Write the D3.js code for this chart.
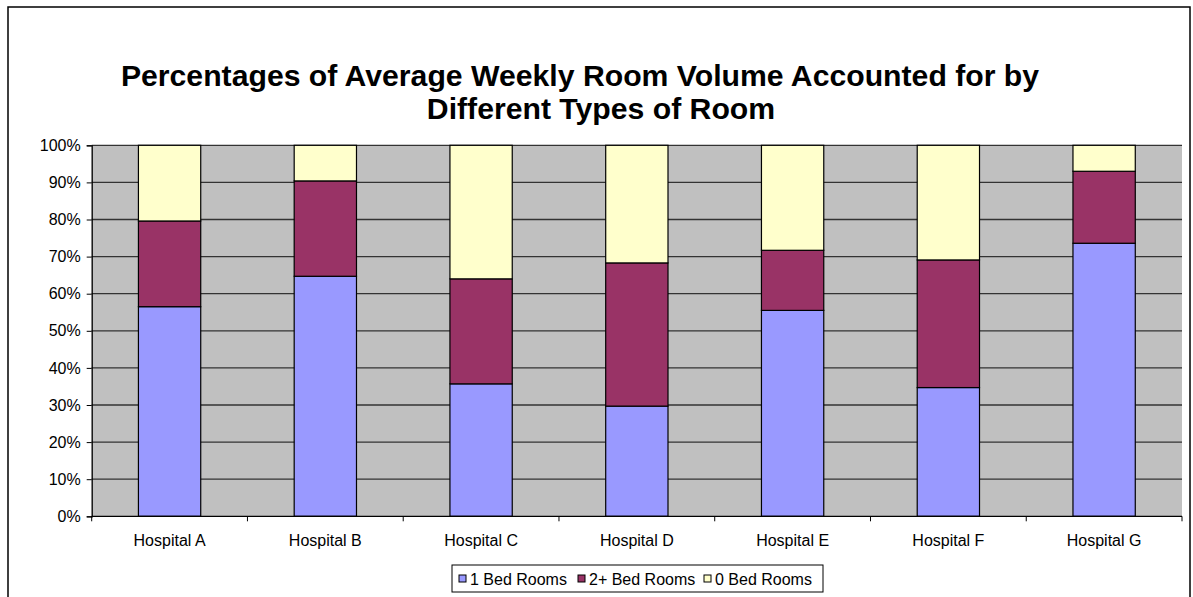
<!DOCTYPE html>
<html>
<head>
<meta charset="utf-8">
<script src="https://cdn.jsdelivr.net/npm/d3@7"></script>
<style>
  body { margin: 0; background: #fff; }
  text { font-family: "Liberation Sans", Arial, sans-serif; }
</style>
</head>
<body>
<div id="chart"></div>
<script>
// Daten
var hospitals = ["Hospital A", "Hospital B", "Hospital C", "Hospital D", "Hospital E", "Hospital F", "Hospital G"];
var oneBed  = [56.5, 64.7, 35.7, 29.7, 55.5, 34.7, 73.6];
var twoBed  = [23.1, 25.7, 28.3, 38.6, 16.2, 34.4, 19.4];
var zeroBed = [20.4, 9.6, 36.0, 31.7, 28.3, 30.9, 7.0];
var seriesNames = ["1 Bed Rooms", "2+ Bed Rooms", "0 Bed Rooms"];
var seriesColors = ["#9999FF", "#993366", "#FFFFCC"];
var yTicks = [0, 10, 20, 30, 40, 50, 60, 70, 80, 90, 100];

var W = 1193, H = 597;
var margin = {top: 145.3, right: 11, bottom: 80.7, left: 91.7},
    width = W - margin.left - margin.right,
    height = H - margin.top - margin.bottom;

var svg = d3.select("#chart").append("svg")
    .attr("width", W)
    .attr("height", H);

// Rahmen
svg.append("rect")
   .attr("x", 8).attr("y", 7)
   .attr("width", W - 3 - 8).attr("height", H + 10)
   .attr("fill", "none")
   .attr("stroke", "#000")
   .attr("stroke-width", 1.5);

// Titel
var title = svg.append("text")
   .attr("text-anchor", "middle")
   .attr("font-size", 30.2)
   .attr("font-weight", "bold")
   .attr("fill", "#000");
title.append("tspan").attr("x", 580).attr("y", 86).text("Percentages of Average Weekly Room Volume Accounted for by");
title.append("tspan").attr("x", 601).attr("y", 119).text("Different Types of Room");

var g = svg.append("g")
   .attr("transform", "translate(" + margin.left + "," + margin.top + ")");

var x = d3.scaleBand().domain(hospitals).range([0, width]).paddingInner(0.6).paddingOuter(0.3);
var xOuter = d3.scaleBand().domain(hospitals).range([0, width]);
var y = d3.scaleLinear().domain([0, 100]).range([height, 0]);

// Hintergrund
g.append("rect")
   .attr("width", width).attr("height", height)
   .attr("fill", "#C0C0C0");

// Gitterlinien
g.selectAll(".grid").data(yTicks.slice(1)).enter().append("line")
   .attr("x1", 0).attr("x2", width)
   .attr("y1", function(d) { return y(d); })
   .attr("y2", function(d) { return y(d); })
   .attr("stroke", "#333")
   .attr("stroke-width", 1.3);

// gestapelte Daten
var rows = hospitals.map(function(h, i) {
  return {name: h, s0: oneBed[i], s1: twoBed[i], s2: zeroBed[i]};
});
var stack = d3.stack().keys(["s0", "s1", "s2"]);
var layers = stack(rows);

g.selectAll(".layer").data(layers).enter().append("g")
   .attr("fill", function(d, i) { return seriesColors[i]; })
   .selectAll("rect").data(function(d) { return d; }).enter().append("rect")
   .attr("x", function(d) { return x(d.data.name); })
   .attr("width", x.bandwidth())
   .attr("y", function(d) { return y(d[1]); })
   .attr("height", function(d) { return y(d[0]) - y(d[1]); })
   .attr("stroke", "#000")
   .attr("stroke-width", 1.2);

// Y Achse
var yAxis = d3.axisLeft(y).tickValues(yTicks).tickSize(5).tickPadding(6)
   .tickFormat(function(d) { return d + "%"; });
var ya = g.append("g").call(yAxis);
ya.select(".domain").attr("stroke", "#000").attr("stroke-width", 1.3);
ya.selectAll(".tick line").attr("stroke", "#000");
ya.selectAll("text").attr("font-size", 16).attr("fill", "#000")
   .style("font-family", "'Liberation Sans', Arial, sans-serif");

// X Achse
var xa = g.append("g").attr("transform", "translate(0," + height + ")");
xa.append("line").attr("x1", 0).attr("x2", width).attr("stroke", "#000").attr("stroke-width", 1.3);
var bounds = hospitals.map(function(h) { return xOuter(h); }).concat([width]);
xa.selectAll(".xt").data(bounds).enter().append("line")
   .attr("x1", function(d) { return d; }).attr("x2", function(d) { return d; })
   .attr("y1", 0).attr("y2", 5)
   .attr("stroke", "#000");
xa.selectAll(".xl").data(hospitals).enter().append("text")
   .attr("x", function(d) { return xOuter(d) + xOuter.bandwidth() / 2; })
   .attr("y", 29.5)
   .attr("text-anchor", "middle")
   .attr("font-size", 16)
   .attr("fill", "#000")
   .text(function(d) { return d; });

// Legende
var leg = svg.append("g").attr("transform", "translate(452,565)");
leg.append("rect").attr("width", 371).attr("height", 27)
   .attr("fill", "#fff").attr("stroke", "#000").attr("stroke-width", 1);
var offsets = [7, 126, 252];
var items = leg.selectAll(".item").data(seriesNames).enter().append("g")
   .attr("transform", function(d, i) { return "translate(" + offsets[i] + ",0)"; });
items.append("rect")
   .attr("x", 0).attr("y", 10).attr("width", 7).attr("height", 7)
   .attr("fill", function(d, i) { return seriesColors[i]; })
   .attr("stroke", "#000").attr("stroke-width", 1);
items.append("text")
   .attr("x", 11).attr("y", 19.5)
   .attr("font-size", 16).attr("fill", "#000")
   .text(function(d) { return d; });
</script>
</body>
</html>
